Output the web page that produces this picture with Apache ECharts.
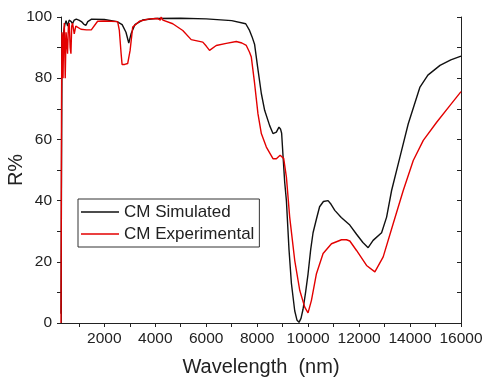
<!DOCTYPE html>
<html>
<head>
<meta charset="utf-8">
<script src="https://cdn.jsdelivr.net/npm/echarts@6/dist/echarts.min.js"></script>
<style>html,body{margin:0;padding:0;background:#fff;}#c{width:485px;height:379px;}</style>
</head>
<body>
<div id="c"></div>
<script>
// Wavelength (nm) and reflectance (%)
const simWave = [300,320,340,360,400,450,500,560,620,700,750,820,900,1000,1100,1200,1280,1350,1500,2000,2500,2700,2850,2960,3050,3200,3500,4000,5000,6000,7000,7550,7700,7800,7900,8018,8163,8293,8490,8620,8753,8855,8920,8960,9013,9080,9147,9249,9343,9473,9560,9642,9720,9800,9900,9996,10100,10193,10326,10450,10600,10783,10900,11046,11300,11636,11900,12150,12356,12550,12883,13080,13276,13603,13930,14390,14700,15176,15600,16000];
const simR = [3,50,88,91,95,97.5,98.8,97,99,98.5,97.8,99,99.3,99,98.5,97.6,97.3,98.5,99.3,99.2,98.5,97.5,95,91.5,94.5,97.5,99,99.5,99.6,99.4,98.8,97.8,95.6,93.5,91,83.6,75,69.5,64.5,61.9,62.4,64,63.3,62,54.8,46,40,24,13,4,1,0.2,1.5,4.5,10,16,24,29.5,34,38,39.7,40,38.8,36.8,34.5,32,29,26.3,24.6,27,29.5,34.6,43.3,54.2,65.1,77.1,81,84.2,86,87.2];
const expWave = [300,310,320,335,350,380,400,430,466,500,557,590,624,660,690,720,754,820,880,950,1084,1300,1489,1737,2000,2523,2590,2660,2697,2800,2917,3011,3114,3377,3770,4100,4200,4230,4300,4360,4687,5080,5410,5866,6000,6130,6393,6787,7180,7400,7573,7700,7770,7900,8030,8163,8360,8620,8753,8900,8950,9040,9147,9276,9473,9670,9866,9996,10130,10326,10587,10916,11310,11505,11636,11900,12293,12620,12946,13340,13733,14126,14520,15045,15570,16000];
const expR = [0,30,70,95,94,80,92,98,80,95,88,97,98,90,88,97,98,94.5,97,96.7,96,95.8,95.8,98.6,98.7,98.5,95.6,88,84.5,84.5,84.8,89,96.7,98.6,99.4,99.5,99,100,99,98.6,97.8,95.6,92.6,91.8,90.5,89.1,90.7,91.4,92,91.5,90.7,88.5,86.9,78.2,68.4,61.9,57.5,53.7,53.7,54.8,55.1,53.8,47.7,34.6,20.5,10.7,5.2,3.3,7.4,16.1,22.7,25.9,27.2,27.2,26.8,23.7,18.8,16.7,21.6,32.5,43.3,53.1,59.7,65.6,71.1,75.6];
const xLabels = [2000,4000,6000,8000,10000,12000,14000,16000];
const xTicks = [1000,2000,3000,4000,5000,6000,7000,8000,9000,10000,11000,12000,13000,14000,15000,16000];
const seriesNames = ['CM Simulated','CM Experimental'];

const font = '"Liberation Sans", Arial, sans-serif';
const zip = (a,b) => a.map((v,i) => [v,b[i]]);
const chart = echarts.init(document.getElementById('c'));
const axLine = {show:true, lineStyle:{color:'#222', width:1}};
chart.setOption({
  animation:false,
  backgroundColor:'#fff',
  grid:{left:61, right:24, top:17, bottom:56, containLabel:false, outerBoundsMode:'none'},
  legend:{
    orient:'vertical', left:78, top:199,
    borderColor:'#333', borderWidth:1, padding:[4,5,4,3],
    icon:'rect', itemWidth:38, itemHeight:1.5, itemGap:4,
    textStyle:{fontFamily:font, fontSize:17, color:'#222', lineHeight:18},
    data:seriesNames
  },
  xAxis:[{
    type:'value', position:'bottom', min:300, max:16000,
    name:'Wavelength  (nm)', nameLocation:'middle', nameGap:34, nameMoveOverlap:false,
    nameTextStyle:{fontFamily:font, fontSize:20, color:'#222'},
    axisLine:axLine,
    axisTick:{show:true, inside:false, length:4, customValues:xTicks, lineStyle:{color:'#222'}},
    axisLabel:{show:true, customValues:xLabels, margin:8, fontFamily:font, fontSize:15.5, color:'#222',
      formatter: v => String(v)},
    splitLine:{show:false}
  },{
    type:'value', position:'top', min:300, max:16000,
    axisLine:axLine,
    axisTick:{show:true, inside:true, length:4, customValues:xTicks, lineStyle:{color:'#222'}},
    axisLabel:{show:false},
    splitLine:{show:false}
  }],
  yAxis:[{
    type:'value', position:'left', min:0, max:100, interval:10,
    name:'R%', nameLocation:'middle', nameGap:35, nameRotate:90, nameMoveOverlap:false,
    nameTextStyle:{fontFamily:font, fontSize:20, color:'#222'},
    axisLine:axLine,
    axisTick:{show:true, inside:false, length:4, lineStyle:{color:'#222'}},
    axisLabel:{margin:9, fontFamily:font, fontSize:15.5, color:'#222',
      formatter: v => (v % 20 === 0 ? String(v) : '')},
    splitLine:{show:false}
  },{
    type:'value', position:'right', min:0, max:100, interval:10,
    axisLine:axLine,
    axisTick:{show:true, inside:true, length:4, lineStyle:{color:'#222'}},
    axisLabel:{show:false},
    splitLine:{show:false}
  }],
  series:[{
    name:seriesNames[0], type:'line', xAxisIndex:0, yAxisIndex:0,
    data:zip(simWave, simR), symbol:'none', showSymbol:false,
    lineStyle:{color:'#111', width:1.4}, itemStyle:{color:'#111'}
  },{
    name:seriesNames[1], type:'line', xAxisIndex:0, yAxisIndex:0,
    data:zip(expWave, expR), symbol:'none', showSymbol:false,
    lineStyle:{color:'#e30000', width:1.4}, itemStyle:{color:'#e30000'}
  }]
});
</script>
</body>
</html>
